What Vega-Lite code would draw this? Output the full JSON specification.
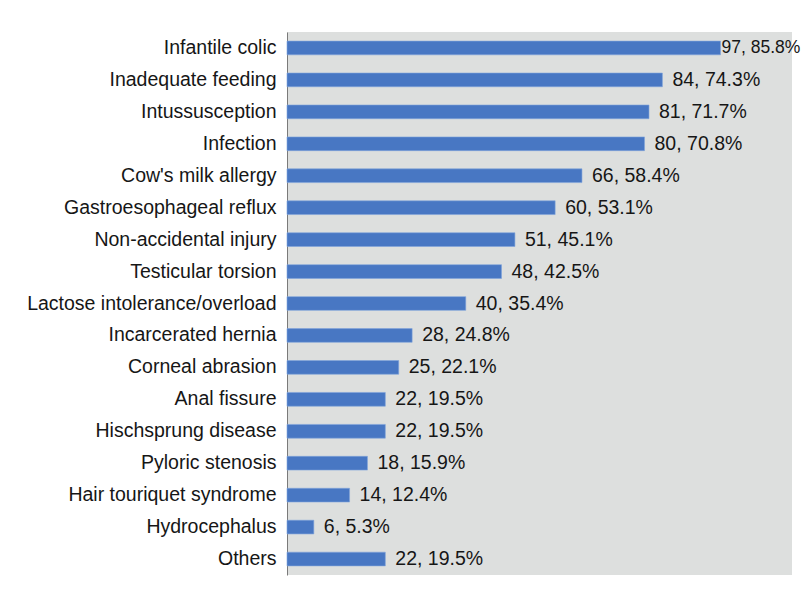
{
  "$schema": "https://vega.github.io/schema/vega-lite/v6.json",
  "width": 505,
  "height": 543,
  "autosize": {"type": "none"},
  "padding": {"left": 287, "top": 32, "right": 10, "bottom": 16},
  "background": "#ffffff",
  "config": {
    "view": {"fill": "#dddfde", "stroke": null},
    "font": "Liberation Sans"
  },
  "data": {
    "values": [
      {"cause": "Infantile colic", "n": 97, "pct": 85.8},
      {"cause": "Inadequate feeding", "n": 84, "pct": 74.3},
      {"cause": "Intussusception", "n": 81, "pct": 71.7},
      {"cause": "Infection", "n": 80, "pct": 70.8},
      {"cause": "Cow's milk allergy", "n": 66, "pct": 58.4},
      {"cause": "Gastroesophageal reflux", "n": 60, "pct": 53.1},
      {"cause": "Non-accidental injury", "n": 51, "pct": 45.1},
      {"cause": "Testicular torsion", "n": 48, "pct": 42.5},
      {"cause": "Lactose intolerance/overload", "n": 40, "pct": 35.4},
      {"cause": "Incarcerated hernia", "n": 28, "pct": 24.8},
      {"cause": "Corneal abrasion", "n": 25, "pct": 22.1},
      {"cause": "Anal fissure", "n": 22, "pct": 19.5},
      {"cause": "Hischsprung disease", "n": 22, "pct": 19.5},
      {"cause": "Pyloric stenosis", "n": 18, "pct": 15.9},
      {"cause": "Hair touriquet syndrome", "n": 14, "pct": 12.4},
      {"cause": "Hydrocephalus", "n": 6, "pct": 5.3},
      {"cause": "Others", "n": 22, "pct": 19.5}
    ]
  },
  "transform": [
    {"calculate": "datum.n + ', ' + format(datum.pct, '.1f') + '%'", "as": "label"}
  ],
  "encoding": {
    "y": {
      "field": "cause",
      "type": "nominal",
      "sort": null,
      "scale": {"paddingInner": 0.57, "paddingOuter": 0.285},
      "axis": {
        "title": null,
        "ticks": false,
        "domainColor": "#7a7a7a",
        "domainWidth": 1,
        "labelFont": "Liberation Sans",
        "labelFontSize": 19.5,
        "labelColor": "#161616",
        "labelPadding": 11,
        "labelLimit": 300
      }
    },
    "x": {
      "field": "n",
      "type": "quantitative",
      "scale": {"domain": [0, 113], "nice": false},
      "axis": null
    }
  },
  "layer": [
    {"mark": {"type": "bar", "color": "#4877c3", "stroke": "#7fa4dc", "strokeWidth": 0.6}},
    {
      "transform": [{"filter": "datum.n < 90"}],
      "mark": {"type": "text", "align": "left", "baseline": "middle", "dx": 10, "fontSize": 19.5, "color": "#161616", "font": "Liberation Sans"},
      "encoding": {"text": {"field": "label"}}
    },
    {
      "transform": [{"filter": "datum.n >= 90"}],
      "mark": {"type": "text", "align": "left", "baseline": "middle", "dx": 1, "fontSize": 17.5, "color": "#161616", "font": "Liberation Sans"},
      "encoding": {"text": {"field": "label"}}
    }
  ]
}
